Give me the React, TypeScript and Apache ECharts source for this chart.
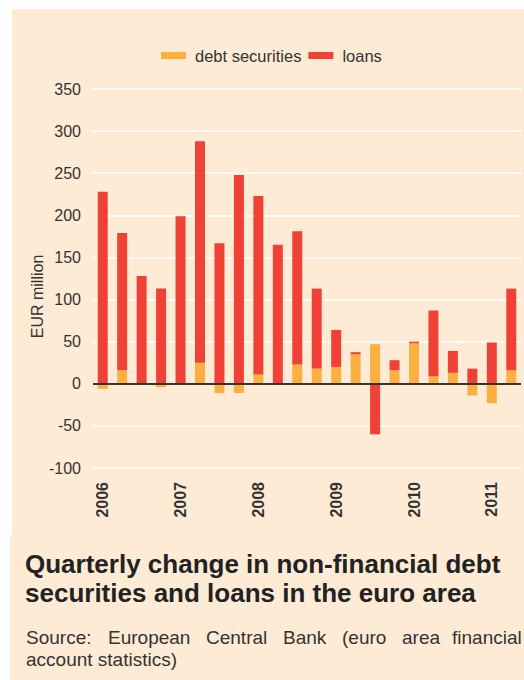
import React, { useEffect, useRef } from "react";
import * as echarts from "echarts";

const quarters = [
  "2006 Q1", "2006 Q2", "2006 Q3", "2006 Q4",
  "2007 Q1", "2007 Q2", "2007 Q3", "2007 Q4",
  "2008 Q1", "2008 Q2", "2008 Q3", "2008 Q4",
  "2009 Q1", "2009 Q2", "2009 Q3", "2009 Q4",
  "2010 Q1", "2010 Q2", "2010 Q3", "2010 Q4",
  "2011 Q1", "2011 Q2",
];
const debtSecurities = [-6, 16, 1, -4, 0, 25, -11, -11, 11, 1, 23, 18, 20, 35, 47, 16, 48, 9, 13, -14, -23, 16];
const loans = [228, 163, 127, 113, 199, 263, 167, 248, 212, 164, 158, 95, 44, 2.5, -60, 12, 2, 78, 26, 18, 49, 97];
const yearLabels: Record<string, string> = {
  "2006 Q1": "2006",
  "2007 Q1": "2007",
  "2008 Q1": "2008",
  "2009 Q1": "2009",
  "2010 Q1": "2010",
  "2011 Q1": "2011",
};
const titleLines = ["Quarterly change in non-financial debt", "securities and loans in the euro area"];
const sourceLine1 = ["Source:", "European", "Central", "Bank", "(euro", "area", "financial"];
const sourceLine2 = "account statistics)";
const yAxisName = "EUR million";

const FONT = "'Liberation Sans', Arial, Helvetica, sans-serif";
const BG = "#FDEBD5";
const ORANGE = "#FBB040";
const RED = "#EF4136";
const TEXT = "#333333";

export default function App() {
  const ref = useRef<HTMLDivElement>(null);
  useEffect(() => {
    if (!ref.current) return;
    const chart = echarts.init(ref.current, undefined, { renderer: "svg" });
    const wordX = [26, 108, 206, 283, 342, 402, 452];
    const option: any = {
      animation: false,
      textStyle: { fontFamily: FONT },
      graphic: [
        { type: "rect", z: -10, silent: true, shape: { x: 12, y: 9, width: 512, height: 526 }, style: { fill: BG } },
        { type: "rect", z: -10, silent: true, shape: { x: 10, y: 535, width: 514, height: 145 }, style: { fill: BG } },
        {
          type: "text", x: 37.5, y: 296.5, rotation: Math.PI / 2,
          style: { text: yAxisName, fill: TEXT, font: `16px ${FONT}`, textAlign: "center", textVerticalAlign: "middle" },
        },
        ...titleLines.map((t, i) => ({
          type: "text", x: 25, y: 564 + i * 29,
          style: { text: t, fill: "#222", font: `bold 26px ${FONT}`, textAlign: "left", textVerticalAlign: "middle" },
        })),
        ...sourceLine1.map((w, i) => ({
          type: "text", x: wordX[i], y: 637,
          style: { text: w, fill: TEXT, font: `19px ${FONT}`, textAlign: "left", textVerticalAlign: "middle" },
        })),
        {
          type: "text", x: 26, y: 659,
          style: { text: sourceLine2, fill: TEXT, font: `19px ${FONT}`, textAlign: "left", textVerticalAlign: "middle" },
        },
      ],
      legend: {
        left: 156,
        top: 42,
        itemWidth: 25,
        itemHeight: 7,
        itemGap: 7,
        icon: "rect",
        textStyle: { fontSize: 16.5, color: TEXT, fontFamily: FONT, padding: [0, 0, 0, 4] },
        data: ["debt securities", "loans"],
      },
      grid: { left: 93, right: 3, top: 89, bottom: 212, containLabel: false },
      xAxis: {
        type: "category",
        data: quarters,
        axisLine: { show: false, onZero: false },
        axisTick: { show: false },
        axisLabel: {
          interval: 0,
          rotate: 90,
          margin: 14,
          fontSize: 16,
          fontWeight: "bold",
          color: TEXT,
          fontFamily: FONT,
          formatter: (v: string) => yearLabels[v] || "",
        },
      },
      yAxis: {
        type: "value",
        min: -100,
        max: 350,
        interval: 50,
        axisLine: { show: false },
        axisTick: { show: false },
        axisLabel: { fontSize: 16, color: TEXT, margin: 12, fontFamily: FONT },
        splitLine: { show: true, lineStyle: { color: "#ffffff", width: 1.5 } },
      },
      series: [
        {
          name: "debt securities",
          type: "bar",
          stack: "total",
          barWidth: 10,
          itemStyle: { color: ORANGE },
          data: debtSecurities,
        },
        {
          name: "loans",
          type: "bar",
          stack: "total",
          barWidth: 10,
          itemStyle: { color: RED },
          data: loans,
          markLine: {
            silent: true,
            symbol: ["none", "none"],
            label: { show: false },
            lineStyle: { color: "#333", width: 2, type: "solid" },
            data: [{ yAxis: 0 }],
          },
        },
      ],
    };
    chart.setOption(option);
    return () => chart.dispose();
  }, []);
  return (
    <div
      ref={ref}
      style={{ position: "absolute", left: 0, top: 0, width: 524, height: 680, background: "#ffffff" }}
    />
  );
}
